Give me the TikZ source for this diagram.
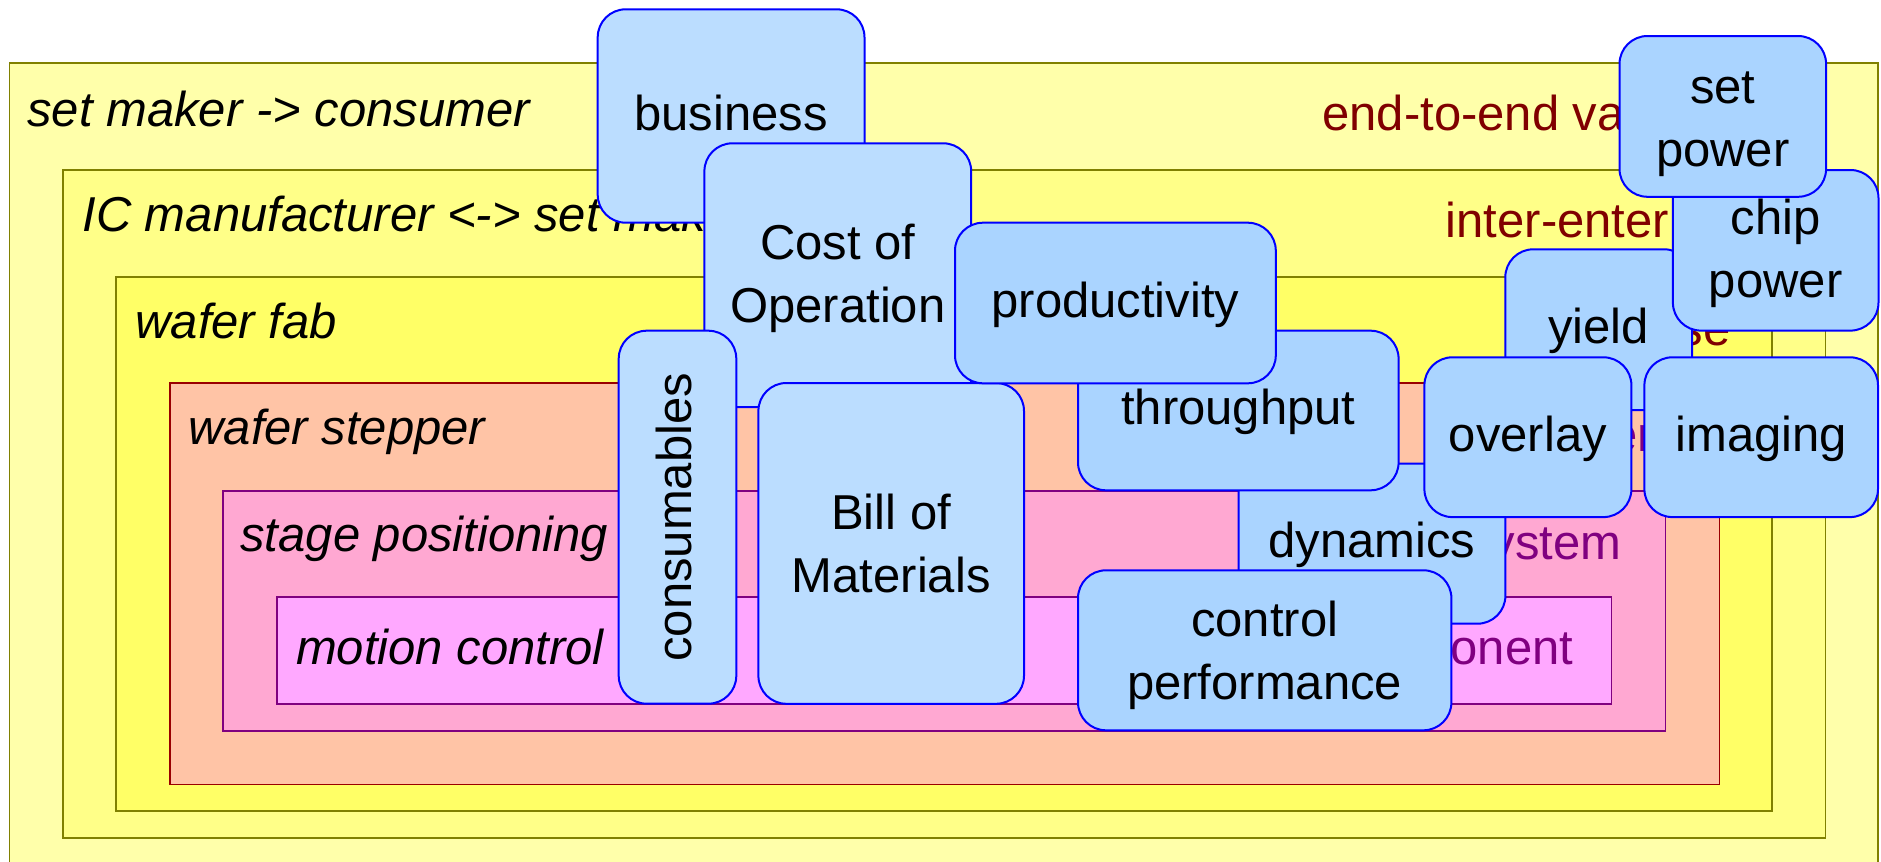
\documentclass[tikz,border=0pt]{standalone}
\usepackage{fontspec}
\setsansfont{Liberation Sans}
\newcommand{\boxfont}{\fontsize{24.5pt}{31.5pt}\selectfont}
\newcommand{\lift}[1]{\rule{0pt}{#1}}

\definecolor{chainfill}{HTML}{FFFFAA}
\definecolor{interfill}{HTML}{FFFF88}
\definecolor{fabfill}{HTML}{FFFF66}
\definecolor{stepperfill}{HTML}{FFC4A6}
\definecolor{stagefill}{HTML}{FFA8D2}
\definecolor{motionfill}{HTML}{FFA8FF}
\definecolor{oliveedge}{HTML}{808000}
\definecolor{redge}{HTML}{990000}
\definecolor{purpleedge}{HTML}{800080}
\definecolor{darkred}{HTML}{800000}
\definecolor{paleblue}{HTML}{BBDDFF}
\definecolor{midblue}{HTML}{AAD4FF}

\begin{document}
\begin{tikzpicture}[font=\sffamily\boxfont,x=0.5pt,y=-0.5pt]
  \tikzstyle{layer}=[line width=0.8pt]
  \tikzstyle{levelname}=[anchor=base west,font=\sffamily\boxfont\itshape,inner sep=0pt]
  \tikzstyle{reach}=[font=\sffamily\boxfont,inner sep=0pt]
  \tikzstyle{concern}=[draw=blue,line width=1pt,rounded corners=14pt,align=center,inner sep=0pt,fill=midblue]
  \tikzstyle{oneline}=[text height=18pt,text depth=4pt]
  \useasboundingbox (0,0) rectangle (1881,862);

  % nested levels
  \draw[layer,draw=oliveedge,fill=chainfill] (9.6,62.7) rectangle (1878.2,880);
  \draw[layer,draw=oliveedge,fill=interfill] (63,170) rectangle (1825.5,837.7);
  \draw[layer,draw=oliveedge,fill=fabfill] (116,276.7) rectangle (1772.1,811);
  \draw[layer,draw=redge,fill=stepperfill] (170,383) rectangle (1719.4,784.3);
  \draw[layer,draw=purpleedge,fill=stagefill] (223,491) rectangle (1665.4,731);
  \draw[layer,draw=purpleedge,fill=motionfill] (277,597) rectangle (1611.5,703.7);

  \node[levelname] (consumer) at (27,126) {set maker -> consumer};
  \node[levelname] (icmaker) at (82,231.7) {IC manufacturer <-> set maker};
  \node[levelname] (fab) at (135,338) {wafer fab};
  \node[levelname] (stepper) at (188,444) {wafer stepper};
  \node[levelname] (stage) at (240,551) {stage positioning};
  \node[levelname] (motion) at (295.6,664) {motion control};

  \node[reach,text=darkred,anchor=base west] (chain) at (1322,130) {end-to-end value chain};
  \node[reach,text=darkred,anchor=base west] (interent) at (1445.4,237.3) {inter-enterprise};
  \node[reach,text=darkred,anchor=base east] (enterprise) at (1731,345) {enterprise};
  \node[reach,text=purpleedge,anchor=base east] (system) at (1679,451.7) {system};
  \node[reach,text=purpleedge,anchor=base east] (subsystem) at (1621.6,559.3) {subsystem};
  \node[reach,text=purpleedge,anchor=base east] (component) at (1573.7,664.3) {component};

  % concerns
  \node[concern,oneline,fill=paleblue,minimum width=133.4pt,minimum height=106.7pt] (business) at (731.1,116) {business};
  \node[concern,fill=paleblue,minimum width=133.4pt,minimum height=131.9pt] (costop) at (837.8,275.2) {\lift{21pt}Cost of\\Operation};
  \node[concern,oneline,fill=paleblue,rotate=90,minimum width=186.5pt,minimum height=58.8pt] (consumables) at (677.5,517.2) {consumables};
  \node[concern,fill=paleblue,minimum width=132.8pt,minimum height=160.4pt] (bom) at (891.2,543.4) {Bill of\\Materials};
  \node[concern,oneline,minimum width=133.4pt,minimum height=80pt] (dynamics) at (1372,543.7) {dynamics};
  \node[concern,oneline,minimum width=160.3pt,minimum height=79.8pt] (throughput) at (1238.3,410.5) {throughput};
  \node[concern,oneline,minimum width=160.4pt,minimum height=80.3pt] (productivity) at (1115.4,303) {productivity};
  \node[concern,minimum width=186.7pt,minimum height=80pt] (control) at (1264.7,650.3) {\lift{22.5pt}control\\performance};
  \node[concern,oneline,minimum width=93.4pt,minimum height=80.4pt] (yield) at (1598.7,329.7) {yield};
  \node[concern,oneline,minimum width=103.5pt,minimum height=79.9pt] (overlay) at (1527.9,437.2) {overlay};
  \node[concern,oneline,minimum width=116.8pt,minimum height=79.9pt] (imaging) at (1761.2,437.2) {imaging};
  \node[concern,minimum width=102.8pt,minimum height=80.3pt] (chippower) at (1775.7,250.3) {\lift{21pt}chip\\power};
  \node[concern,minimum width=103.3pt,minimum height=80.4pt] (setpower) at (1722.8,116.4) {\lift{23.5pt}set\\power};
\end{tikzpicture}
\end{document}
